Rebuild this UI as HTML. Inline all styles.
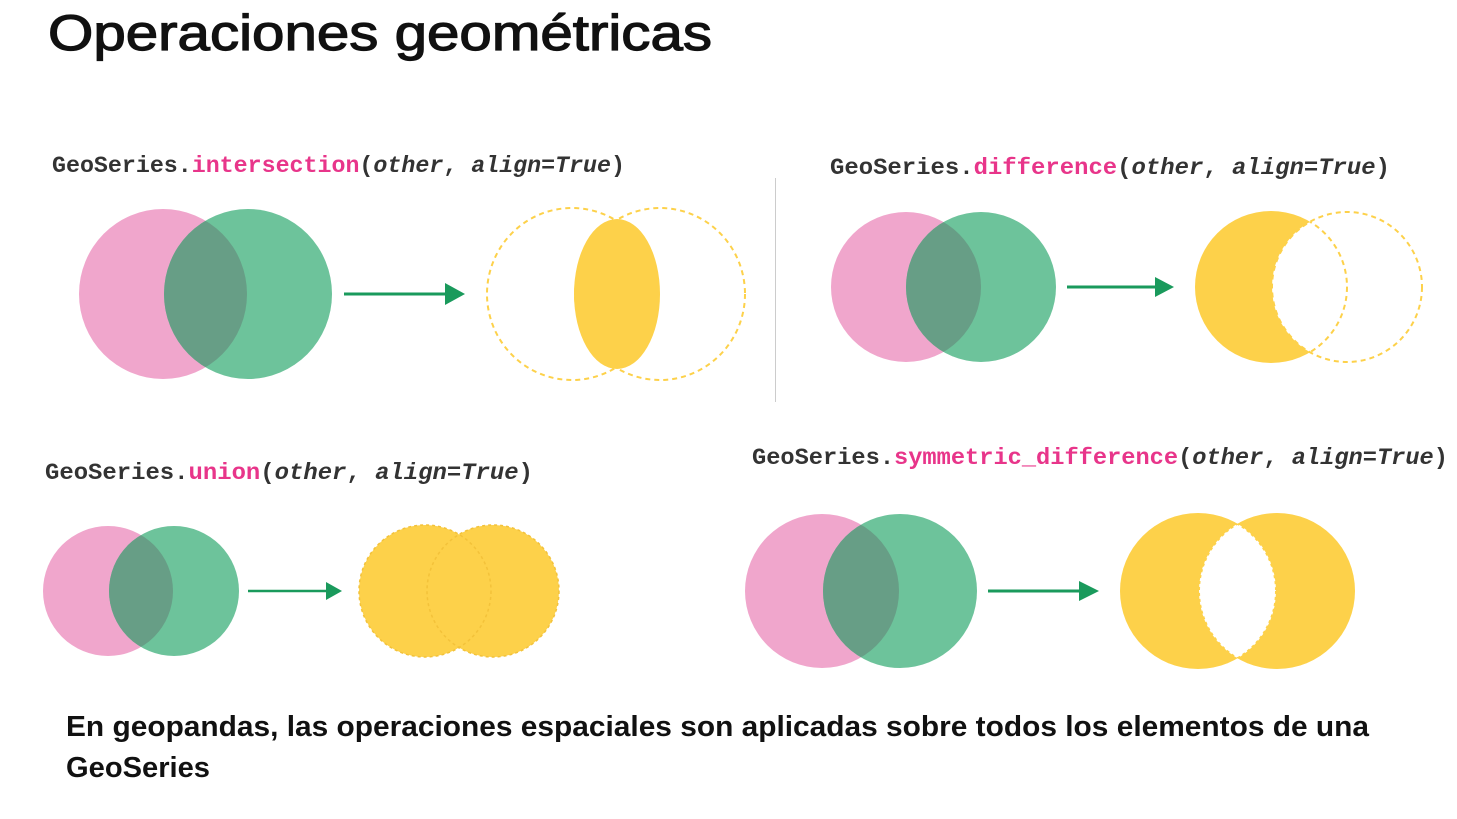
<!DOCTYPE html>
<html><head><meta charset="utf-8"><style>
html,body{margin:0;padding:0;background:#fff;}
svg{display:block}
.code{font-family:"Liberation Mono",monospace;font-weight:bold;font-size:23px;fill:#333;}
.pk{fill:#e8358a}
.it{font-style:italic}
</style></head><body>
<svg width="1457" height="819" viewBox="0 0 1457 819" xmlns="http://www.w3.org/2000/svg">
<defs>
<clipPath id="c1"><ellipse cx="248" cy="294" rx="84" ry="85"/></clipPath>
<clipPath id="c2"><circle cx="981" cy="287" r="75"/></clipPath>
<clipPath id="c3"><circle cx="174" cy="591" r="65"/></clipPath>
<clipPath id="c4"><circle cx="900" cy="591" r="77"/></clipPath>
<clipPath id="c5"><circle cx="1277" cy="591" r="78"/></clipPath>
<clipPath id="c5b"><circle cx="1198" cy="591" r="78"/></clipPath>
<clipPath id="c6"><circle cx="1347" cy="287" r="75"/></clipPath>
</defs>
<text x="48" y="50" font-family="Liberation Sans,sans-serif" font-size="50" fill="#111" stroke="#111" stroke-width="1.2" textLength="664" lengthAdjust="spacingAndGlyphs">Operaciones geométricas</text>

<text class="code" x="52" y="172" textLength="573" lengthAdjust="spacingAndGlyphs">GeoSeries.<tspan class="pk">intersection</tspan>(<tspan class="it">other</tspan>, <tspan class="it">align=True</tspan>)</text>
<text class="code" x="830" y="174" textLength="560" lengthAdjust="spacingAndGlyphs">GeoSeries.<tspan class="pk">difference</tspan>(<tspan class="it">other</tspan>, <tspan class="it">align=True</tspan>)</text>
<text class="code" x="45" y="479" textLength="488" lengthAdjust="spacingAndGlyphs">GeoSeries.<tspan class="pk">union</tspan>(<tspan class="it">other</tspan>, <tspan class="it">align=True</tspan>)</text>
<text class="code" x="752" y="464" textLength="696" lengthAdjust="spacingAndGlyphs">GeoSeries.<tspan class="pk">symmetric_difference</tspan>(<tspan class="it">other</tspan>, <tspan class="it">align=True</tspan>)</text>

<line x1="775.5" y1="178" x2="775.5" y2="402" stroke="#ccc" stroke-width="1"/>

<!-- intersection -->
<ellipse cx="163" cy="294" rx="84" ry="85" fill="#f0a6cc"/>
<ellipse cx="248" cy="294" rx="84" ry="85" fill="#6dc39b"/>
<ellipse cx="163" cy="294" rx="84" ry="85" fill="#679e86" clip-path="url(#c1)"/>
<line x1="344" y1="294" x2="447" y2="294" stroke="#1a9a5c" stroke-width="3"/>
<polygon points="445,283 465,294 445,305" fill="#1a9a5c"/>
<ellipse cx="572" cy="294" rx="85" ry="86" fill="none" stroke="#fdd14a" stroke-width="2" stroke-dasharray="5,4"/>
<ellipse cx="660" cy="294" rx="85" ry="86" fill="none" stroke="#fdd14a" stroke-width="2" stroke-dasharray="5,4"/>
<ellipse cx="617" cy="294" rx="43" ry="75" fill="#fdd14a"/>

<!-- difference -->
<circle cx="906" cy="287" r="75" fill="#f0a6cc"/>
<circle cx="981" cy="287" r="75" fill="#6dc39b"/>
<circle cx="906" cy="287" r="75" fill="#679e86" clip-path="url(#c2)"/>
<line x1="1067" y1="287" x2="1157" y2="287" stroke="#1a9a5c" stroke-width="3"/>
<polygon points="1155,277 1174,287 1155,297" fill="#1a9a5c"/>
<circle cx="1271" cy="287" r="76" fill="#fdd14a"/>
<circle cx="1347" cy="287" r="75" fill="#fff"/>
<circle cx="1347" cy="287" r="75" fill="none" stroke="#fdd14a" stroke-width="2" stroke-dasharray="5,4"/>
<circle cx="1271" cy="287" r="76" fill="none" stroke="#fdd14a" stroke-width="2" stroke-dasharray="5,4" clip-path="url(#c6)"/>

<!-- union -->
<circle cx="108" cy="591" r="65" fill="#f0a6cc"/>
<circle cx="174" cy="591" r="65" fill="#6dc39b"/>
<circle cx="108" cy="591" r="65" fill="#679e86" clip-path="url(#c3)"/>
<line x1="248" y1="591" x2="328" y2="591" stroke="#1a9a5c" stroke-width="2.5"/>
<polygon points="326,582 342,591 326,600" fill="#1a9a5c"/>
<circle cx="425" cy="591" r="66" fill="#fdd14a"/>
<circle cx="493" cy="591" r="66" fill="#fdd14a"/>
<circle cx="425" cy="591" r="66" fill="none" stroke="#f3c23a" stroke-width="1.5" stroke-dasharray="3,3"/>
<circle cx="493" cy="591" r="66" fill="none" stroke="#f3c23a" stroke-width="1.5" stroke-dasharray="3,3"/>

<!-- symmetric difference -->
<circle cx="822" cy="591" r="77" fill="#f0a6cc"/>
<circle cx="900" cy="591" r="77" fill="#6dc39b"/>
<circle cx="822" cy="591" r="77" fill="#679e86" clip-path="url(#c4)"/>
<line x1="988" y1="591" x2="1081" y2="591" stroke="#1a9a5c" stroke-width="3"/>
<polygon points="1079,581 1099,591 1079,601" fill="#1a9a5c"/>
<circle cx="1198" cy="591" r="78" fill="#fdd14a"/>
<circle cx="1277" cy="591" r="78" fill="#fdd14a"/>
<circle cx="1198" cy="591" r="78" fill="#fff" clip-path="url(#c5)"/>
<circle cx="1198" cy="591" r="78" fill="none" stroke="#fdd14a" stroke-width="2" stroke-dasharray="3,3" clip-path="url(#c5)"/>
<circle cx="1277" cy="591" r="78" fill="none" stroke="#fdd14a" stroke-width="2" stroke-dasharray="3,3" clip-path="url(#c5b)"/>

<text x="66" y="736" font-family="Liberation Sans,sans-serif" font-weight="bold" font-size="29" fill="#111" textLength="1303" lengthAdjust="spacingAndGlyphs">En geopandas, las operaciones espaciales son aplicadas sobre todos los elementos de una</text>
<text x="66" y="777" font-family="Liberation Sans,sans-serif" font-weight="bold" font-size="29" fill="#111" textLength="144" lengthAdjust="spacingAndGlyphs">GeoSeries</text>
</svg>
</body></html>
